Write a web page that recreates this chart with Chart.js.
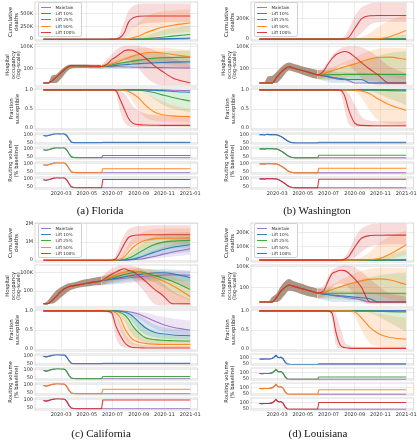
<!DOCTYPE html>
<html>
<head>
<meta charset="utf-8">
<script src="https://cdn.jsdelivr.net/npm/chart.js@4.4.0/dist/chart.umd.min.js"></script>
<style>
  body { margin: 0; width: 417px; height: 440px; overflow: hidden; position: relative; background: #fff; font-family: 'DejaVu Sans', sans-serif; }
  canvas { position: absolute; }
  .ylab { position: absolute; transform: translate(-50%, -50%) rotate(-90deg); font-size: 5.3px; line-height: 5.6px; color: #262626; text-align: center; white-space: nowrap; }
  .cap { position: absolute; transform: translate(-50%, -50%); font-family: 'Liberation Serif', serif; font-size: 11px; color: #111; white-space: nowrap; }
  .legend { position: absolute; width: 44px; height: 35px; box-sizing: border-box; background: rgba(255,255,255,0.85); border: 0.7px solid #d0d0d0; border-radius: 2px; }
  .legend .sw { position: absolute; left: 2.5px; width: 10px; height: 1.1px; }
  .legend .tx { position: absolute; left: 17px; font-size: 4.2px; line-height: 5px; color: #262626; white-space: nowrap; }
</style>
</head>
<body>
<script>
// x positions are day numbers counted from 2020-01-01
const PRE_DAYS = [18, 28, 38, 48, 58, 68, 78, 88, 100, 115, 130, 145, 156];
const POST_DAYS = [156, 170, 180, 190, 200, 210, 220, 230, 245, 260, 280, 300, 325, 366];
const ROUTE_DAYS = [18, 24, 30, 36, 42, 48, 53, 57, 61, 65, 69, 74, 79, 84, 90, 96, 102];
const ROUTE_POST_DAYS = [156, 159, 366];
const TICK_DAYS = [60, 121, 182, 244, 305, 366];
const TICK_LABELS = ['2020-03', '2020-05', '2020-07', '2020-09', '2020-11', '2021-01'];

const SCENARIOS = ['Maintain', 'Lift 10%', 'Lift 25%', 'Lift 50%', 'Lift 100%'];
const COLORS = ['#9467bd', '#1f77b4', '#2ca02c', '#ff7f0e', '#d62728'];

const HOSP_TICKS = [100, 100000];
const HOSP_LABELS = ['100', '100K'];
const FRAC_TICKS = [0, 0.5, 1];
const FRAC_LABELS = ['0.0', '0.5', '1.0'];
const ROUTE_TICKS = [50, 100];
const ROUTE_LABELS = ['50', '100'];

// ---------- Florida ----------  (deaths in thousands)
const FL_DEATH_TICKS = [0, 250, 500];
const FL_DEATH_LABELS = ['0', '250K', '500K'];
const FL_DEATHS = [
  [0, 0, 0, 0, 0, 0, 0, 0, 0, 0, 0, 1, 3, 8],
  [0, 0, 0, 0, 0, 0, 0, 0, 0.5, 1, 3, 6, 11, 22],
  [0, 0, 0, 0, 0, 0, 0, 1, 3, 8, 20, 38, 60, 92],
  [0, 0, 0, 0, 1, 3, 10, 25, 60, 120, 180, 230, 270, 315],
  [0, 0, 1, 5, 32, 130, 330, 410, 445, 450, 450, 450, 450, 450]
];
const FL_DEATHS_LO = [null, null,
  [0, 0, 0, 0, 0, 0, 0, 0, 0, 0.5, 2, 5, 12, 25],
  [0, 0, 0, 0, 0, 0, 0, 1, 5, 15, 40, 80, 110, 150],
  [0, 0, 0, 0, 2, 20, 100, 200, 280, 310, 320, 325, 330, 330]
];
const FL_DEATHS_HI = [null, null,
  [0, 0, 0, 0, 0, 1, 4, 12, 35, 70, 120, 170, 215, 260],
  [0, 0, 0, 1, 5, 30, 100, 200, 330, 430, 500, 540, 560, 575],
  [0, 0, 3, 20, 120, 350, 550, 640, 680, 690, 690, 690, 690, 690]
];
const FL_HOSP_PRE = [1, 1, 2, 6, 20, 70, 180, 230, 225, 215, 200, 190, 180];
const FL_HOSP_PRE_LO = [1, 1, 1, 1, 3, 15, 60, 100, 110, 110, 105, 100, 95];
const FL_HOSP_PRE_HI = [1, 1, 10, 15, 50, 150, 300, 340, 330, 320, 310, 300, 290];
const FL_HOSP = [
  [180, 175, 170, 165, 160, 155, 150, 145, 140, 135, 130, 125, 118, 110],
  [180, 200, 220, 250, 280, 310, 340, 380, 430, 490, 560, 630, 700, 760],
  [180, 230, 300, 380, 480, 600, 750, 950, 1300, 1700, 2300, 2700, 3000, 3200],
  [180, 250, 400, 600, 1000, 1700, 2800, 4500, 8000, 13000, 15500, 12000, 7500, 3500],
  [180, 400, 1500, 3500, 9500, 24000, 32000, 28000, 10000, 2500, 250, 40, 5, 1]
];
const FL_HOSP_LO = [null,
  [95, 95, 95, 95, 95, 95, 95, 95, 95, 95, 95, 95, 95, 95],
  [95, 100, 110, 130, 150, 170, 200, 230, 280, 320, 380, 400, 400, 400],
  [95, 110, 130, 160, 200, 260, 330, 420, 600, 800, 800, 500, 250, 80],
  [95, 150, 300, 600, 1000, 1500, 1200, 500, 80, 8, 1, 0.5, 0.5, 0.5]
];
const FL_HOSP_HI = [null,
  [290, 350, 450, 550, 700, 900, 1100, 1400, 1800, 2300, 3000, 3600, 4300, 5000],
  [290, 500, 800, 1300, 2000, 3000, 4500, 6000, 9000, 12000, 16000, 20000, 23000, 25000],
  [290, 800, 2000, 5000, 10000, 18000, 28000, 38000, 52000, 62000, 68000, 60000, 48000, 32000],
  [290, 2000, 8000, 30000, 70000, 110000, 130000, 130000, 110000, 70000, 30000, 10000, 2500, 300]
];
const FL_FRAC = [
  [1, 1, 1, 1, 1, 1, 1, 1, 1, 1, 1, 1, 0.99, 0.98],
  [1, 1, 1, 1, 1, 1, 1, 1, 1, 1, 0.99, 0.98, 0.96, 0.94],
  [1, 1, 1, 1, 1, 1, 1, 1, 0.99, 0.97, 0.93, 0.87, 0.8, 0.71],
  [1, 1, 1, 1, 1, 0.99, 0.96, 0.9, 0.78, 0.6, 0.43, 0.35, 0.32, 0.3],
  [1, 1, 1, 0.98, 0.75, 0.5, 0.25, 0.13, 0.09, 0.08, 0.075, 0.07, 0.07, 0.07]
];
const FL_FRAC_LO = [null, null,
  [1, 1, 1, 1, 1, 1, 1, 0.99, 0.96, 0.9, 0.77, 0.62, 0.5, 0.42],
  [1, 1, 1, 1, 0.99, 0.95, 0.85, 0.7, 0.45, 0.28, 0.2, 0.17, 0.16, 0.15],
  [1, 1, 1, 0.9, 0.45, 0.15, 0.05, 0.03, 0.02, 0.02, 0.02, 0.02, 0.02, 0.02]
];
const FL_FRAC_HI = [null, null,
  [1, 1, 1, 1, 1, 1, 1, 1, 1, 1, 1, 1, 0.99, 0.97],
  [1, 1, 1, 1, 1, 1, 1, 0.99, 0.96, 0.9, 0.8, 0.7, 0.6, 0.5],
  [1, 1, 1, 1, 0.97, 0.9, 0.75, 0.58, 0.45, 0.38, 0.34, 0.32, 0.31, 0.3]
];
const FL_ROUTE = [95, 92, 95, 100, 105, 107, 108, 106, 107, 108, 105, 92, 70, 52, 47, 46, 46];
const FL_ROUTE_LEVEL = [46, 50, 60, 70, 97];

// ---------- Washington ----------
const WA_DEATH_TICKS = [0, 200];
const WA_DEATH_LABELS = ['0', '200K'];
const WA_DEATHS = [
  [0, 0, 0, 0, 0, 0, 0, 0, 0, 0, 0, 0, 0, 0],
  [0, 0, 0, 0, 0, 0, 0, 0, 0, 0, 0, 0, 0.2, 0.5],
  [0, 0, 0, 0, 0, 0, 0, 0, 0, 0, 0, 0.5, 1.5, 3],
  [0, 0, 0, 0, 0, 0, 0, 0, 0, 0.3, 1, 5, 22, 85],
  [0, 0, 0, 0, 0, 0, 3, 20, 110, 200, 230, 233, 233, 233]
];
const WA_DEATHS_LO = [null, null, null,
  [0, 0, 0, 0, 0, 0, 0, 0, 0, 0, 0, 0, 2, 15],
  [0, 0, 0, 0, 0, 0, 0, 0, 10, 60, 140, 165, 170, 170]
];
const WA_DEATHS_HI = [null, null,
  [0, 0, 0, 0, 0, 0, 0, 0, 0, 1, 3, 8, 20, 45],
  [0, 0, 0, 0, 0, 0, 0, 1, 5, 20, 60, 120, 180, 240],
  [0, 0, 0, 0, 0, 5, 30, 100, 230, 310, 350, 360, 360, 360]
];
const WA_HOSP_PRE = [1, 1, 1, 1, 5, 25, 80, 160, 100, 58, 34, 20, 13];
const WA_HOSP_PRE_LO = [1, 1, 1, 1, 1, 3, 15, 50, 35, 18, 9, 5, 3.5];
const WA_HOSP_PRE_HI = [1, 1, 8, 10, 30, 120, 350, 600, 400, 230, 130, 80, 55];
const WA_HOSP = [
  [13, 9, 7, 5, 4, 3, 3, 2, 1, 1, 1, 1, 1, 1],
  [13, 10, 8, 6, 5, 4, 3.5, 3, 3, 3, 1, 1, 1, 1],
  [13, 13, 13, 14, 14, 14, 15, 15, 15, 15, 15, 15, 15, 15],
  [13, 20, 30, 45, 70, 105, 160, 230, 400, 800, 1800, 3000, 3300, 1600],
  [13, 42, 330, 2000, 7500, 14000, 19500, 14000, 3300, 600, 76, 12, 1, 1]
];
const WA_HOSP_LO = [null,
  [3.5, 2, 1.5, 1, 1, 1, 1, 1, 1, 1, 1, 1, 1, 1],
  [3.5, 3, 3, 3, 2.5, 2.5, 2, 2, 2, 2, 2, 1.5, 1, 1],
  [3.5, 3, 3, 3, 4, 5, 6, 7, 9, 12, 15, 15, 8, 3],
  [3.5, 5, 10, 30, 100, 200, 300, 200, 40, 5, 1, 0.5, 0.5, 0.5]
];
const WA_HOSP_HI = [null,
  [55, 50, 45, 40, 35, 30, 30, 28, 25, 25, 20, 20, 15, 15],
  [55, 60, 70, 90, 110, 150, 200, 280, 500, 900, 2000, 5000, 12000, 20000],
  [55, 70, 100, 150, 250, 400, 700, 1200, 3000, 8000, 25000, 50000, 60000, 50000],
  [55, 120, 700, 5000, 20000, 50000, 80000, 100000, 100000, 70000, 20000, 3000, 200, 20]
];
const WA_FRAC = [
  [1, 1, 1, 1, 1, 1, 1, 1, 1, 1, 1, 1, 1, 1],
  [1, 1, 1, 1, 1, 1, 1, 1, 1, 1, 1, 1, 1, 0.995],
  [1, 1, 1, 1, 1, 1, 1, 1, 1, 1, 1, 0.99, 0.98, 0.97],
  [1, 1, 1, 1, 1, 1, 1, 1, 0.99, 0.97, 0.9, 0.76, 0.62, 0.46],
  [1, 1, 1, 1, 1, 0.99, 0.85, 0.47, 0.12, 0.07, 0.065, 0.06, 0.06, 0.06]
];
const WA_FRAC_LO = [null, null,
  [1, 1, 1, 1, 1, 1, 1, 1, 1, 0.99, 0.97, 0.9, 0.78, 0.6],
  [1, 1, 1, 1, 1, 1, 1, 0.99, 0.95, 0.8, 0.45, 0.2, 0.12, 0.08],
  [1, 1, 1, 1, 1, 0.95, 0.5, 0.1, 0.03, 0.02, 0.02, 0.02, 0.02, 0.02]
];
const WA_FRAC_HI = [null, null, null,
  [1, 1, 1, 1, 1, 1, 1, 1, 1, 1, 1, 0.99, 0.96, 0.9],
  [1, 1, 1, 1, 1, 1, 0.98, 0.9, 0.6, 0.3, 0.2, 0.18, 0.17, 0.17]
];
const WA_ROUTE = [100, 102, 99, 103, 101, 102, 100, 101, 98, 93, 88, 80, 70, 60, 52, 47, 45];
const WA_ROUTE_LEVEL = [45, 50, 61, 73, 98];

// ---------- California ----------
const CA_DEATH_TICKS = [0, 1000, 2000];
const CA_DEATH_LABELS = ['0', '1M', '2M'];
const CA_DEATHS = [
  [0, 0, 0, 0, 0, 0, 10, 20, 50, 100, 200, 320, 450, 630],
  [0, 0, 0, 0, 0, 10, 30, 60, 140, 260, 430, 580, 710, 850],
  [0, 0, 0, 0, 10, 50, 120, 220, 420, 620, 850, 980, 1050, 1090],
  [0, 0, 0, 10, 50, 200, 450, 700, 950, 1100, 1180, 1210, 1220, 1230],
  [0, 0, 10, 80, 450, 900, 1250, 1350, 1390, 1400, 1400, 1400, 1400, 1400]
];
const CA_DEATHS_LO = [
  [0, 0, 0, 0, 0, 0, 0, 10, 20, 40, 80, 130, 200, 300],
  [0, 0, 0, 0, 0, 0, 10, 20, 50, 100, 180, 270, 360, 450],
  [0, 0, 0, 0, 0, 10, 30, 70, 150, 280, 450, 570, 650, 700],
  [0, 0, 0, 0, 10, 50, 150, 300, 500, 650, 780, 830, 850, 860],
  [0, 0, 0, 10, 80, 300, 600, 850, 1000, 1050, 1100, 1120, 1120, 1120]
];
const CA_DEATHS_HI = [
  [0, 0, 0, 0, 0, 0, 30, 80, 200, 350, 550, 720, 900, 1100],
  [0, 0, 0, 0, 0, 30, 100, 200, 400, 600, 850, 1020, 1170, 1300],
  [0, 0, 0, 0, 30, 150, 300, 500, 800, 1050, 1300, 1450, 1520, 1550],
  [0, 0, 0, 30, 150, 500, 900, 1200, 1450, 1600, 1700, 1730, 1750, 1750],
  [0, 0, 30, 300, 900, 1400, 1700, 1820, 1880, 1900, 1920, 1920, 1920, 1920]
];
const CA_HOSP_PRE = [1, 1, 3, 14, 70, 250, 500, 700, 1000, 1500, 2300, 3300, 4500];
const CA_HOSP_PRE_LO = [1, 1, 1, 2, 8, 30, 100, 200, 350, 500, 700, 900, 1000];
const CA_HOSP_PRE_HI = [1, 3, 20, 120, 400, 900, 1800, 2500, 4000, 7000, 11000, 17000, 22000];
const CA_HOSP = [
  [4500, 6000, 7000, 8500, 10000, 12000, 14000, 16000, 20000, 24000, 30000, 36000, 40000, 35000],
  [4500, 7000, 9000, 12000, 15000, 20000, 26000, 33000, 45000, 60000, 80000, 85000, 60000, 14000],
  [4500, 9000, 14000, 20000, 30000, 45000, 65000, 90000, 125000, 76000, 33000, 13500, 3400, 190],
  [4500, 12000, 22000, 40000, 70000, 110000, 150000, 185000, 105000, 56000, 19000, 4800, 760, 14],
  [4500, 20000, 50000, 110000, 250000, 370000, 210000, 135000, 26000, 4000, 230, 25, 1, 1]
];
const CA_HOSP_LO = [
  [1000, 1100, 1200, 1300, 1500, 1700, 2000, 2300, 2800, 3300, 4000, 4500, 4500, 3000],
  [1000, 1200, 1500, 1800, 2200, 2700, 3300, 4000, 5500, 7500, 9000, 8000, 3500, 300],
  [1000, 1500, 2000, 3000, 4000, 5500, 7000, 9000, 12000, 8000, 2500, 500, 50, 3],
  [1000, 2000, 3000, 5000, 8000, 12000, 15000, 15000, 8000, 2500, 300, 30, 2, 0.5],
  [1000, 3000, 6000, 10000, 20000, 30000, 20000, 8000, 800, 50, 1, 0.5, 0.5, 0.5]
];
const CA_HOSP_HI = [
  [22000, 25000, 30000, 35000, 40000, 48000, 56000, 65000, 80000, 95000, 120000, 150000, 180000, 200000],
  [22000, 30000, 40000, 55000, 70000, 90000, 110000, 140000, 180000, 240000, 300000, 320000, 280000, 150000],
  [22000, 40000, 70000, 100000, 150000, 200000, 260000, 320000, 400000, 380000, 300000, 200000, 90000, 20000],
  [22000, 60000, 120000, 200000, 300000, 420000, 520000, 600000, 550000, 400000, 200000, 80000, 20000, 2000],
  [22000, 150000, 400000, 800000, 1200000, 1400000, 1300000, 1000000, 500000, 150000, 20000, 2000, 100, 5]
];
const CA_FRAC = [
  [1, 1, 1, 1, 1, 0.99, 0.98, 0.96, 0.91, 0.84, 0.74, 0.65, 0.57, 0.5],
  [1, 1, 1, 1, 0.99, 0.97, 0.93, 0.86, 0.7, 0.56, 0.45, 0.4, 0.37, 0.35],
  [1, 1, 1, 0.99, 0.96, 0.9, 0.78, 0.6, 0.42, 0.3, 0.25, 0.23, 0.22, 0.21],
  [1, 1, 0.99, 0.95, 0.83, 0.56, 0.38, 0.25, 0.18, 0.15, 0.13, 0.12, 0.12, 0.12],
  [1, 0.99, 0.95, 0.6, 0.36, 0.18, 0.08, 0.04, 0.035, 0.03, 0.03, 0.03, 0.03, 0.03]
];
const CA_FRAC_LO = [
  [1, 1, 1, 1, 1, 0.98, 0.95, 0.9, 0.8, 0.68, 0.55, 0.46, 0.4, 0.35],
  [1, 1, 1, 1, 0.97, 0.92, 0.83, 0.7, 0.5, 0.38, 0.31, 0.28, 0.26, 0.25],
  [1, 1, 1, 0.97, 0.88, 0.72, 0.52, 0.36, 0.23, 0.17, 0.14, 0.13, 0.13, 0.13],
  [1, 1, 0.97, 0.85, 0.55, 0.3, 0.15, 0.1, 0.07, 0.06, 0.06, 0.06, 0.06, 0.06],
  [1, 0.98, 0.85, 0.3, 0.1, 0.04, 0.02, 0.02, 0.02, 0.02, 0.02, 0.02, 0.02, 0.02]
];
const CA_FRAC_HI = [
  [1, 1, 1, 1, 1, 1, 1, 0.99, 0.98, 0.95, 0.9, 0.85, 0.8, 0.75],
  [1, 1, 1, 1, 1, 0.99, 0.98, 0.95, 0.88, 0.78, 0.65, 0.58, 0.53, 0.5],
  [1, 1, 1, 1, 0.99, 0.97, 0.92, 0.85, 0.72, 0.58, 0.45, 0.38, 0.35, 0.34],
  [1, 1, 1, 0.99, 0.95, 0.85, 0.7, 0.55, 0.4, 0.32, 0.26, 0.24, 0.23, 0.22],
  [1, 1, 1, 0.9, 0.7, 0.45, 0.28, 0.18, 0.12, 0.1, 0.09, 0.08, 0.08, 0.08]
];
const CA_ROUTE = [97, 93, 96, 101, 105, 107, 108, 107, 106, 107, 103, 88, 65, 50, 47, 46, 46];
const CA_ROUTE_LEVEL = [46, 50, 60, 73, 100];

// ---------- Louisiana ----------
const LA_DEATH_TICKS = [0, 100, 200];
const LA_DEATH_LABELS = ['0', '100K', '200K'];
const LA_DEATHS = [
  [0, 0, 0, 0, 0, 0, 0, 0, 0, 0, 0, 0, 0, 0],
  [0, 0, 0, 0, 0, 0, 0, 0, 0, 0, 0, 0, 0, 0],
  [0, 0, 0, 0, 0, 0, 0, 0, 0, 0, 0, 0, 0.5, 3],
  [0, 0, 0, 0, 0, 0, 0, 0, 0, 0.5, 2, 10, 40, 112],
  [0, 0, 0, 0, 0, 1, 7, 28, 100, 160, 180, 182, 183, 183]
];
const LA_DEATHS_LO = [null, null, null,
  [0, 0, 0, 0, 0, 0, 0, 0, 0, 0, 0, 1, 8, 40],
  [0, 0, 0, 0, 0, 0, 0, 2, 20, 60, 100, 112, 115, 115]
];
const LA_DEATHS_HI = [null, null,
  [0, 0, 0, 0, 0, 0, 0, 0, 0, 1, 5, 15, 35, 75],
  [0, 0, 0, 0, 0, 0, 0, 1, 5, 20, 60, 120, 170, 215],
  [0, 0, 0, 0, 1, 5, 25, 70, 170, 230, 260, 268, 270, 270]
];
const LA_HOSP_PRE = [1, 1, 1, 1, 4, 30, 110, 260, 165, 92, 51, 29, 19];
const LA_HOSP_PRE_LO = [1, 1, 1, 1, 1, 2, 10, 40, 30, 15, 8, 5, 3.5];
const LA_HOSP_PRE_HI = [1, 1, 1, 5, 15, 150, 800, 1900, 900, 450, 220, 120, 80];
const LA_HOSP = [
  [19, 13, 11, 9, 7, 6, 5, 4, 3, 2, 1, 1, 1, 1],
  [19, 14, 12, 10, 9, 8, 7, 6, 5, 4, 3, 1, 1, 1],
  [19, 18, 18, 18, 18, 18, 18, 18, 18, 18, 18, 18, 18, 18],
  [19, 22, 35, 55, 90, 140, 230, 350, 600, 1000, 1600, 1900, 1400, 300],
  [19, 35, 700, 10000, 20000, 31000, 28000, 12000, 1600, 125, 1, 1, 1, 1]
];
const LA_HOSP_LO = [null,
  [3.5, 2, 1.5, 1, 1, 1, 1, 1, 1, 1, 1, 1, 1, 1],
  [3.5, 3, 3, 3, 3, 2.5, 2.5, 2, 2, 2, 1.5, 1.5, 1, 1],
  [3.5, 4, 5, 6, 8, 10, 12, 15, 20, 25, 20, 10, 3, 1],
  [3.5, 5, 20, 100, 300, 400, 300, 100, 10, 1, 0.5, 0.5, 0.5, 0.5]
];
const LA_HOSP_HI = [null,
  [80, 60, 50, 45, 40, 40, 35, 35, 30, 30, 25, 20, 20, 15],
  [80, 80, 90, 110, 150, 200, 300, 450, 800, 1500, 3000, 6000, 10000, 15000],
  [80, 100, 150, 300, 600, 1200, 2500, 5000, 12000, 25000, 50000, 70000, 80000, 60000],
  [80, 200, 3000, 30000, 80000, 130000, 160000, 150000, 80000, 20000, 2000, 200, 20, 5]
];
const LA_FRAC = [
  [1, 1, 1, 1, 1, 1, 1, 1, 1, 1, 1, 1, 1, 1],
  [1, 1, 1, 1, 1, 1, 1, 1, 1, 1, 1, 1, 1, 1],
  [1, 1, 1, 1, 1, 1, 1, 1, 1, 1, 1, 0.99, 0.98, 0.97],
  [1, 1, 1, 1, 1, 1, 1, 1, 0.97, 0.82, 0.57, 0.41, 0.31, 0.26],
  [1, 1, 1, 0.95, 0.42, 0.1, 0.04, 0.025, 0.02, 0.02, 0.02, 0.02, 0.02, 0.02]
];
const LA_FRAC_LO = [null, null,
  [1, 1, 1, 1, 1, 1, 1, 1, 1, 0.99, 0.95, 0.85, 0.7, 0.45],
  [1, 1, 1, 1, 1, 1, 1, 0.99, 0.85, 0.5, 0.15, 0.07, 0.05, 0.04],
  [1, 1, 1, 0.8, 0.1, 0.02, 0.01, 0.01, 0.01, 0.01, 0.01, 0.01, 0.01, 0.01]
];
const LA_FRAC_HI = [null, null, null,
  [1, 1, 1, 1, 1, 1, 1, 1, 1, 1, 0.98, 0.93, 0.88, 0.82],
  [1, 1, 1, 1, 0.9, 0.55, 0.2, 0.1, 0.07, 0.06, 0.06, 0.06, 0.06, 0.06]
];
const LA_ROUTE = [92, 91, 92, 92, 93, 97, 110, 125, 110, 104, 108, 95, 65, 48, 46, 45, 45];
const LA_ROUTE_LEVEL = [45, 50, 64, 82, 100];

// ---------- layout ----------
const PANELS = [
  { x: 0, y: 0, caption: '(a) Florida', capX: 100, capY: 210,
    deaths: [FL_DEATHS, FL_DEATHS_LO, FL_DEATHS_HI], deathRange: [-35, 720], deathTicks: [FL_DEATH_TICKS, FL_DEATH_LABELS],
    hospPre: [FL_HOSP_PRE, FL_HOSP_PRE_LO, FL_HOSP_PRE_HI], hosp: [FL_HOSP, FL_HOSP_LO, FL_HOSP_HI], hospRange: [0.4, 2e5],
    frac: [FL_FRAC, FL_FRAC_LO, FL_FRAC_HI], route: FL_ROUTE, level: FL_ROUTE_LEVEL, routeRange: [38, 112] },
  { x: 216, y: 0, caption: '(b) Washington', capX: 317, capY: 210,
    deaths: [WA_DEATHS, WA_DEATHS_LO, WA_DEATHS_HI], deathRange: [-18, 365], deathTicks: [WA_DEATH_TICKS, WA_DEATH_LABELS],
    hospPre: [WA_HOSP_PRE, WA_HOSP_PRE_LO, WA_HOSP_PRE_HI], hosp: [WA_HOSP, WA_HOSP_LO, WA_HOSP_HI], hospRange: [0.4, 2e5],
    frac: [WA_FRAC, WA_FRAC_LO, WA_FRAC_HI], route: WA_ROUTE, level: WA_ROUTE_LEVEL, routeRange: [38, 112] },
  { x: 0, y: 221, caption: '(c) California', capX: 101, capY: 433,
    deaths: [CA_DEATHS, CA_DEATHS_LO, CA_DEATHS_HI], deathRange: [-100, 2050], deathTicks: [CA_DEATH_TICKS, CA_DEATH_LABELS],
    hospPre: [CA_HOSP_PRE, CA_HOSP_PRE_LO, CA_HOSP_PRE_HI], hosp: [CA_HOSP, CA_HOSP_LO, CA_HOSP_HI], hospRange: [0.3, 1.5e6],
    frac: [CA_FRAC, CA_FRAC_LO, CA_FRAC_HI], route: CA_ROUTE, level: CA_ROUTE_LEVEL, routeRange: [38, 112] },
  { x: 216, y: 221, caption: '(d) Louisiana', capX: 318, capY: 433,
    deaths: [LA_DEATHS, LA_DEATHS_LO, LA_DEATHS_HI], deathRange: [-14, 272], deathTicks: [LA_DEATH_TICKS, LA_DEATH_LABELS],
    hospPre: [LA_HOSP_PRE, LA_HOSP_PRE_LO, LA_HOSP_PRE_HI], hosp: [LA_HOSP, LA_HOSP_LO, LA_HOSP_HI], hospRange: [0.2, 1.75e5],
    frac: [LA_FRAC, LA_FRAC_LO, LA_FRAC_HI], route: LA_ROUTE, level: LA_ROUTE_LEVEL, routeRange: [40, 136] }
];

const PLOT_LEFT = 35, CANVAS_W = 210, PAD_RIGHT = 12.3;
const GRID = '#e6e6e6', TXT = '#333';
const TICK_FONT = { family: 'DejaVu Sans', size: 5 };

const framePlugin = {
  id: 'frame',
  afterDatasetsDraw(chart) {
    const a = chart.chartArea, c = chart.ctx;
    c.save();
    c.strokeStyle = '#d2d2d2';
    c.lineWidth = 0.8;
    c.strokeRect(a.left, a.top, a.right - a.left, a.bottom - a.top);
    c.restore();
  }
};

function rgba(hex, a) {
  const n = parseInt(hex.slice(1), 16);
  return `rgba(${n >> 16},${(n >> 8) & 255},${n & 255},${a})`;
}
function pts(days, vals) { return days.map((d, i) => ({ x: d, y: vals[i] })); }

function line(data, color, order, smooth) {
  return { data, borderColor: rgba(color, 0.9), borderWidth: 1.1, pointRadius: 0, fill: false,
           cubicInterpolationMode: smooth ? 'monotone' : 'default', tension: 0, order };
}
function addBand(sets, lo, hi, color, order) {
  const idx = sets.length;
  sets.push({ data: lo, borderWidth: 0, pointRadius: 0, fill: false, cubicInterpolationMode: 'monotone', order });
  sets.push({ data: hi, borderWidth: 0, pointRadius: 0, fill: idx, backgroundColor: color,
              cubicInterpolationMode: 'monotone', order });
}

function scenarioSets(mids, los, his, lead) {
  const sets = [];
  for (let s = 4; s >= 0; s--) sets.push(line(lead(s).concat(pts(POST_DAYS, mids[s])), COLORS[s], 4 - s, true));
  for (let s = 4; s >= 0; s--) {
    if (!los[s] && !his[s]) continue;
    addBand(sets, pts(POST_DAYS, los[s] || mids[s]), pts(POST_DAYS, his[s] || mids[s]), rgba(COLORS[s], 0.17), 10 + (4 - s));
  }
  return sets;
}

function makeChart(px, py, top, bottom, datasets, y, showX) {
  const padTop = 5, padBottom = showX ? 2 : 5, xh = showX ? 10 : 0;
  const cv = document.createElement('canvas');
  cv.width = CANVAS_W;
  cv.height = (bottom - top) + padTop + padBottom + xh;
  cv.style.left = px + 'px';
  cv.style.top = (py + top - padTop) + 'px';
  document.body.appendChild(cv);
  new Chart(cv, {
    type: 'line',
    data: { datasets },
    options: {
      responsive: false, animation: false, events: [],
      layout: { padding: { left: 0, right: PAD_RIGHT, top: padTop, bottom: padBottom } },
      plugins: { legend: { display: false }, tooltip: { enabled: false } },
      scales: {
        x: {
          type: 'linear', min: -2, max: 384,
          afterBuildTicks: s => { s.ticks = TICK_DAYS.map(v => ({ value: v })); },
          afterFit: s => { s.height = xh; },
          ticks: { display: showX, autoSkip: false, maxRotation: 0, padding: 2, font: TICK_FONT, color: TXT,
                   callback: v => TICK_LABELS[TICK_DAYS.indexOf(v)] },
          grid: { color: GRID, lineWidth: 0.8, drawTicks: false },
          border: { display: false }
        },
        y: {
          type: y.type || 'linear', min: y.min, max: y.max,
          afterBuildTicks: s => { s.ticks = y.ticks.map(v => ({ value: v })); },
          afterFit: s => { s.width = PLOT_LEFT; },
          ticks: { autoSkip: false, padding: 2, font: TICK_FONT, color: TXT,
                   callback: v => y.labels[y.ticks.indexOf(v)] },
          grid: { color: GRID, lineWidth: 0.8, drawTicks: false },
          border: { display: false }
        }
      }
    },
    plugins: [framePlugin]
  });
}

function addText(cls, x, y, html) {
  const d = document.createElement('div');
  d.className = cls;
  d.style.left = x + 'px';
  d.style.top = y + 'px';
  d.innerHTML = html;
  document.body.appendChild(d);
  return d;
}

function addLegend(x, y) {
  const box = document.createElement('div');
  box.className = 'legend';
  box.style.left = x + 'px';
  box.style.top = y + 'px';
  SCENARIOS.forEach((name, i) => {
    const sw = document.createElement('div');
    sw.className = 'sw';
    sw.style.top = (4.2 + i * 6.2) + 'px';
    sw.style.background = rgba(COLORS[i], 0.9);
    const tx = document.createElement('div');
    tx.className = 'tx';
    tx.style.top = (2.3 + i * 6.2) + 'px';
    tx.textContent = name;
    box.appendChild(sw);
    box.appendChild(tx);
  });
  document.body.appendChild(box);
}

const STRIPS = [[133, 144], [147, 159], [162, 174], [177, 189]];

PANELS.forEach(p => {
  // cumulative deaths
  const dSets = scenarioSets(p.deaths[0], p.deaths[1], p.deaths[2], s => [{ x: PRE_DAYS[0], y: p.deaths[0][s][0] }]);
  makeChart(p.x, p.y, 2, 41, dSets,
    { min: p.deathRange[0], max: p.deathRange[1], ticks: p.deathTicks[0], labels: p.deathTicks[1] }, false);

  // hospital occupancy (log)
  const pre = p.hospPre[0];
  const hSets = scenarioSets(p.hosp[0], p.hosp[1], p.hosp[2],
    () => pts(PRE_DAYS.slice(0, -1), pre.slice(0, -1)));
  addBand(hSets, pts(PRE_DAYS, p.hospPre[1]), pts(PRE_DAYS, p.hospPre[2]), 'rgba(125,80,62,0.62)', 40);
  makeChart(p.x, p.y, 44, 86, hSets,
    { type: 'logarithmic', min: p.hospRange[0], max: p.hospRange[1], ticks: HOSP_TICKS, labels: HOSP_LABELS }, false);

  // fraction susceptible
  const fSets = scenarioSets(p.frac[0], p.frac[1], p.frac[2], s => [{ x: PRE_DAYS[0], y: p.frac[0][s][0] }]);
  makeChart(p.x, p.y, 88, 130, fSets, { min: -0.05, max: 1.05, ticks: FRAC_TICKS, labels: FRAC_LABELS }, false);

  // routing volume strips
  const last = p.route[p.route.length - 1];
  const base = pts(ROUTE_DAYS, p.route);
  STRIPS.forEach((st, k) => {
    const s = k + 1;
    const sets = [
      line(base.concat(pts(ROUTE_POST_DAYS, [last, p.level[s], p.level[s]])), COLORS[s], 0, false),
      line(base.concat(pts(ROUTE_POST_DAYS, [last, p.level[0], p.level[0]])), COLORS[0], 1, false)
    ];
    makeChart(p.x, p.y, st[0], st[1], sets,
      { min: p.routeRange[0], max: p.routeRange[1], ticks: ROUTE_TICKS, labels: ROUTE_LABELS }, k === 3);
  });

  // axis titles, legend, caption
  addText('ylab', p.x + 13.5, p.y + 21.5, 'Cumulative<br>deaths');
  addText('ylab', p.x + 13, p.y + 65, 'Hospital<br>occupancy<br>(log-scale)');
  addText('ylab', p.x + 14.5, p.y + 109, 'Fraction<br>susceptible');
  addText('ylab', p.x + 14, p.y + 161, 'Routing volume<br>(% baseline)');
  addLegend(p.x + 37.5, p.y + 1.8);
  addText('cap', p.capX, p.capY, p.caption);
});
</script>
</body>
</html>
